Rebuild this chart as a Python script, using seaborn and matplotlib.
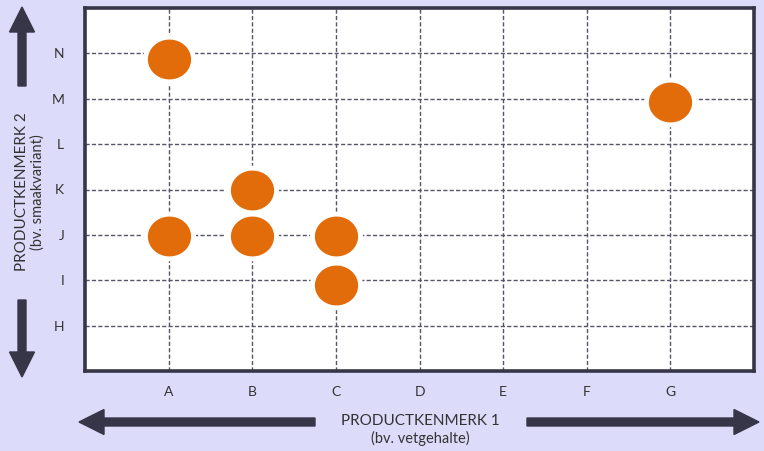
import matplotlib
matplotlib.use("Agg")
import matplotlib.pyplot as plt
from matplotlib.patches import FancyArrow
from matplotlib.path import Path
import numpy as np
import pandas as pd
import seaborn as sns

# categories on both axes
x_labels = ["A", "B", "C", "D", "E", "F", "G"]
y_labels = ["H", "I", "J", "K", "L", "M", "N"]

# products: x category and y position on the category scale (H = 1 ... N = 7)
point_x = ["A", "G", "B", "A", "B", "C", "C"]
point_y = [6.87, 5.92, 3.98, 2.97, 2.97, 2.97, 1.90]

BG = "#DCDCFA"
DARK = "#363648"
ORANGE = "#E36C0A"

sns.set_theme(style="white")
plt.rcParams["font.family"] = ["Lato", "DejaVu Sans"]

df = pd.DataFrame({
    "x": [x_labels.index(v) + 1 for v in point_x],
    "y": point_y,
})

fig = plt.figure(figsize=(7.64, 4.51), dpi=100, facecolor=BG)
ax = fig.add_axes([85 / 764, 80 / 451, 669 / 764, 363 / 451])
ax.set_facecolor("white")

# slightly wide ellipse marker
t = np.linspace(0, 2 * np.pi, 60)
ell = Path(np.column_stack([np.cos(t), 0.93 * np.sin(t)]), closed=True)

ax.set_xlim(0, 8)
ax.set_ylim(0, 8)
ax.set_xticks(range(1, 8))
ax.set_xticklabels(x_labels)
ax.set_yticks(range(1, 8))
ax.set_yticklabels(y_labels)
ax.grid(True, color="#55556a", linestyle=(0, (3, 1.6)), linewidth=1.0)
ax.set_axisbelow(True)

sns.scatterplot(data=df, x="x", y="y", ax=ax, marker=ell, s=1200,
                color=ORANGE, edgecolor="white", linewidth=3.5, zorder=3,
                legend=False)
ax.set_xlabel("")
ax.set_ylabel("")

for s in ax.spines.values():
    s.set_color(DARK)
    s.set_linewidth(2.6)
ax.tick_params(axis="both", length=0, labelsize=10, labelcolor="#333333")
ax.tick_params(axis="x", pad=11)
ax.tick_params(axis="y", pad=15)

# axis titles with arrows (figure pixel coordinates, y measured from top)
H = 451


def add_arrow(x0, y0, x1, y1):
    a = FancyArrow(x0, H - y0, x1 - x0, -(y1 - y0), width=8, head_width=25,
                   head_length=25, length_includes_head=True, color=DARK,
                   transform=None, figure=fig)
    fig.patches.append(a)


add_arrow(22, 86, 22, 7)
add_arrow(22, 300, 22, 377)
add_arrow(315, 422, 79, 422)
add_arrow(527, 422, 759, 422)

fig.text(420 / 764, 1 - 421 / H, "PRODUCTKENMERK 1", ha="center", va="center",
         fontsize=11, color="#333333")
fig.text(420 / 764, 1 - 438 / H, "(bv. vetgehalte)", ha="center", va="center",
         fontsize=10.5, color="#333333")
fig.text(22 / 764, 1 - 192 / H, "PRODUCTKENMERK 2", ha="center", va="center",
         rotation=90, fontsize=11, color="#333333")
fig.text(38 / 764, 1 - 192 / H, "(bv. smaakvariant)", ha="center", va="center",
         rotation=90, fontsize=10.5, color="#333333")

fig.savefig("out.png", dpi=100, facecolor=BG)
